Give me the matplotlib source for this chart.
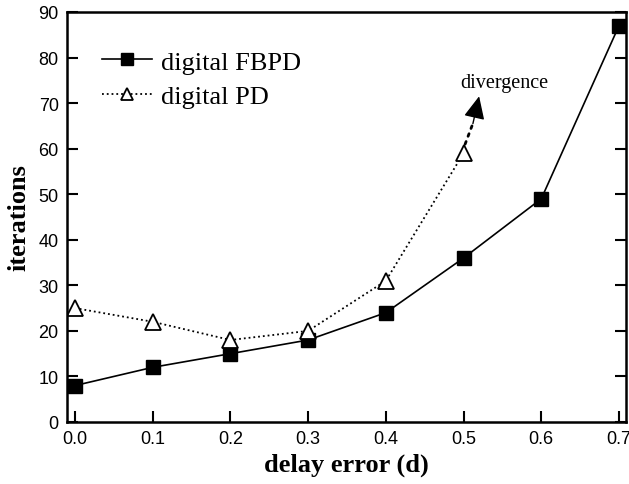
import matplotlib
matplotlib.use("Agg")
import matplotlib.pyplot as plt

delay = [0.0, 0.1, 0.2, 0.3, 0.4, 0.5, 0.6, 0.7]
fbpd = [8, 12, 15, 18, 24, 36, 49, 87]
delay_pd = [0.0, 0.1, 0.2, 0.3, 0.4, 0.5]
pd_iter = [25, 22, 18, 20, 31, 59]
xticks = [0.0, 0.1, 0.2, 0.3, 0.4, 0.5, 0.6, 0.7]
yticks = [0, 10, 20, 30, 40, 50, 60, 70, 80, 90]

fig = plt.figure(figsize=(6.29, 4.85), dpi=100)
ax = fig.add_axes([67 / 629, 62 / 485, 559 / 629, 410 / 485])

ax.plot(delay, fbpd, "-", color="black", lw=1.2, marker="s", ms=10,
        mfc="black", mec="black", label="digital FBPD")
ax.plot(delay_pd, pd_iter, ":", color="black", lw=1.3, marker="^", ms=11,
        mfc="white", mec="black", mew=1.3, label="digital PD")

# divergence arrow: dotted shaft, solid head
ax.annotate("", xy=(0.513, 66), xytext=(0.502, 61),
            arrowprops=dict(arrowstyle="-", linestyle=(0, (1, 2)),
                            color="black", lw=2, shrinkA=0, shrinkB=0))
ax.annotate("", xy=(0.52, 71.5), xytext=(0.512, 65.5),
            arrowprops=dict(arrowstyle="-|>,head_length=1.4,head_width=0.65",
                            color="black", lw=1, shrinkA=0, shrinkB=0))
ax.text(0.496, 74.5, "divergence", fontsize=14.5, family="Liberation Serif",
        ha="left", va="center")

ax.set_xlim(-0.0103, 0.709)
ax.set_ylim(0, 90)
ax.set_xticks(xticks)
ax.set_yticks(yticks)
ax.set_xticklabels([f"{v:.1f}" for v in xticks])
ax.tick_params(direction="in", length=8, width=1.5, labelsize=13,
               right=True, top=False, pad=6)
for lab in ax.get_xticklabels() + ax.get_yticklabels():
    lab.set_family("Liberation Sans")
for s in ax.spines.values():
    s.set_linewidth(1.8)

ax.set_xlabel("delay error (d)", fontsize=19, fontweight="bold",
              family="Liberation Serif", labelpad=4)
ax.set_ylabel("iterations", fontsize=19, fontweight="bold",
              family="Liberation Serif", labelpad=6)

leg = ax.legend(loc="upper left", bbox_to_anchor=(0.02, 0.965), frameon=False,
                prop={"family": "Liberation Serif", "size": 19},
                handlelength=1.9, labelspacing=0.42, handletextpad=0.35,
                markerscale=0.8)

fig.savefig("out.png", dpi=100)
